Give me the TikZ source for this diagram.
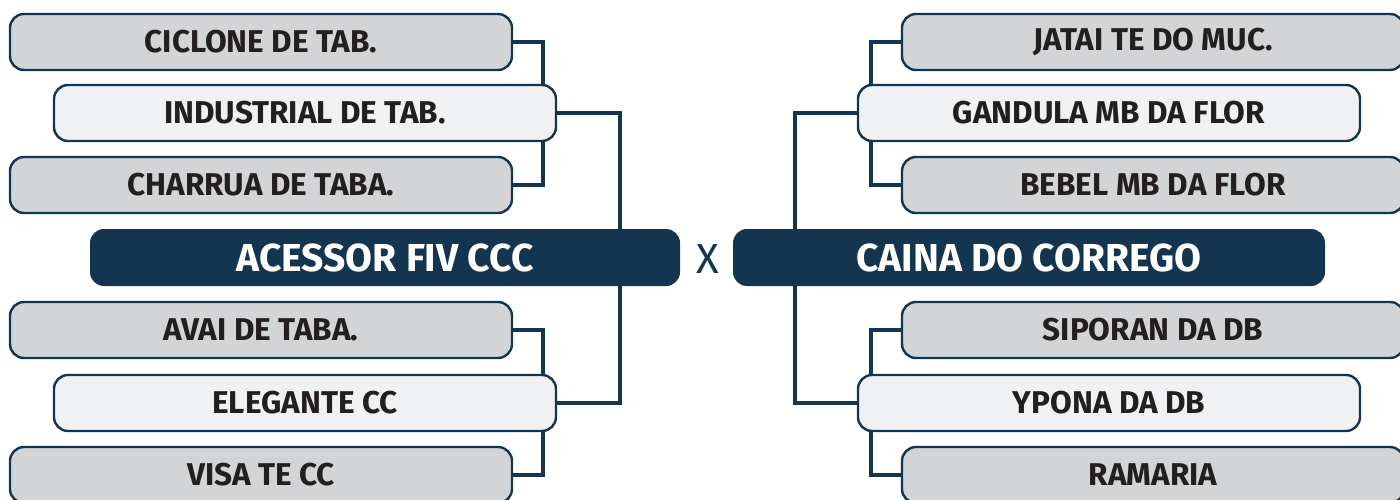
\documentclass[tikz,border=0pt]{standalone}
\usepackage{fontspec}
\setmainfont{Fira Sans}
\usepackage{tikz}
\usetikzlibrary{backgrounds}
\definecolor{navy}{HTML}{13354F}
\definecolor{boxgray}{HTML}{D3D4D6}
\definecolor{boxlight}{HTML}{F0F1F3}
\definecolor{ink}{HTML}{231F20}

\begin{document}
\begin{tikzpicture}[x=1pt,y=-1pt,
        team/.style={draw=navy,line width=2.4pt,rounded corners=14pt,minimum width=502pt,minimum height=56pt,
                inner sep=0pt,text=ink,font=\bfseries\fontsize{31.5}{33}\selectfont},
        grayteam/.style={team,fill=boxgray},
        lightteam/.style={team,fill=boxlight},
        final/.style={fill=navy,rounded corners=14pt,minimum height=57pt,inner sep=0pt,
                text=white,font=\bfseries\fontsize{39}{40}\selectfont},
        link/.style={draw=navy,line width=4pt}]
        \useasboundingbox (0,0) rectangle (1400,500);
        \clip (0,0) rectangle (1400,500);
        % left side
        \node[grayteam]  (ciclone)    at (261,42)  {CICLONE DE TAB.};
        \node[lightteam] (industrial) at (305,113) {INDUSTRIAL DE TAB.};
        \node[grayteam]  (charrua)    at (261,185) {CHARRUA DE TABA.};
        \node[final,minimum width=590pt] (acessor) at (385,257.5) {ACESSOR FIV CCC};
        \node[grayteam]  (avai)       at (261,330) {AVAI DE TABA.};
        \node[lightteam] (elegante)   at (305,403) {ELEGANTE CC};
        \node[grayteam]  (visa)       at (261,475) {VISA TE CC};
        % right side
        \node[grayteam]  (jatai)      at (1153,42)  {JATAI TE DO MUC.};
        \node[lightteam] (gandula)    at (1109,113) {GANDULA MB DA FLOR};
        \node[grayteam]  (bebel)      at (1153,185) {BEBEL MB DA FLOR};
        \node[final,minimum width=592pt] (caina) at (1029,257.5) {CAINA DO CORREGO};
        \node[grayteam]  (siporan)    at (1153,330) {SIPORAN DA DB};
        \node[lightteam] (ypona)      at (1109,403) {YPONA DA DB};
        \node[grayteam]  (ramaria)    at (1153,475) {RAMARIA};
        \node[text=navy,font=\fontsize{42}{44}\selectfont] (versus) at (708,259) {X};
        % brackets
        \begin{pgfonlayer}{background}
        \draw[link] (ciclone.east) -| (543,0 |- industrial.north) -- (543,0 |- industrial.south) |- (charrua.east);
        \draw[link] (avai.east) -| (543,0 |- elegante.north) -- (543,0 |- elegante.south) |- (visa.east);
        \draw[link] (industrial.east) -| (620,0 |- acessor.north);
        \draw[link] (elegante.east) -| (620,0 |- acessor.south);
        \draw[link] (jatai.west) -| (871,0 |- gandula.north) -- (871,0 |- gandula.south) |- (bebel.west);
        \draw[link] (siporan.west) -| (871,0 |- ypona.north) -- (871,0 |- ypona.south) |- (ramaria.west);
        \draw[link] (gandula.west) -| (795,0 |- caina.north);
        \draw[link] (ypona.west) -| (795,0 |- caina.south);
        \end{pgfonlayer}
\end{tikzpicture}
\end{document}
